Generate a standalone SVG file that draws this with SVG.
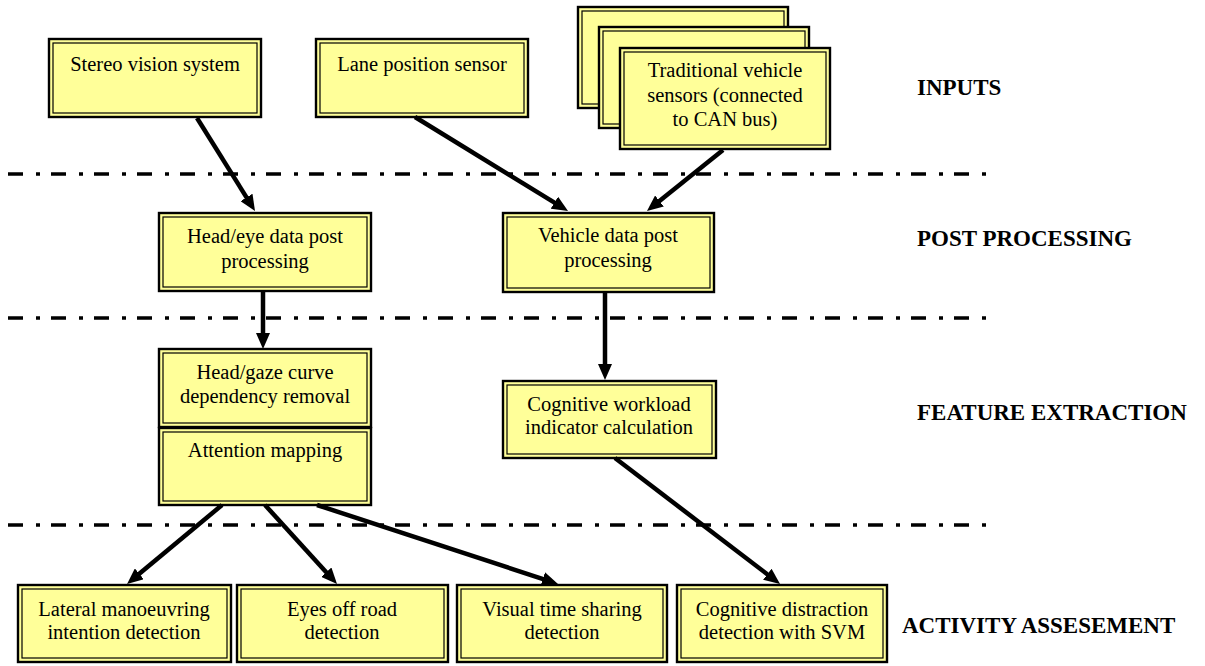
<svg xmlns="http://www.w3.org/2000/svg" width="1205" height="666" viewBox="0 0 1205 666">
  <style>
    .o { fill: #FFFF99; stroke: #000; stroke-width: 2.4; }
    .i { fill: none; stroke: #000; stroke-width: 1.2; }
    .t { font-family: "Liberation Serif", "Times New Roman", serif; font-size: 20.5px; fill: #000; text-anchor: middle; }
    .lbl { font-family: "Liberation Serif", "Times New Roman", serif; font-size: 23px; font-weight: bold; fill: #000; }
    .sep { stroke: #000; stroke-width: 3.5; stroke-dasharray: 15 13 4 11; fill: none; }
    .arr { stroke: #000; stroke-width: 4.5; fill: none; marker-end: url(#head); }
  </style>
  <defs>
    <marker id="head" viewBox="0 0 16 14" markerWidth="16" markerHeight="14" markerUnits="userSpaceOnUse" refX="2" refY="7" orient="auto">
      <path d="M0,0 L16,7 L0,14 z" fill="#000"/>
    </marker>
  </defs>
  <rect width="1205" height="666" fill="#fff"/>

  <!-- stage separators -->
  <g id="separators">
    <line class="sep" x1="8" y1="174" x2="992" y2="174"/>
    <line class="sep" x1="8" y1="318" x2="992" y2="318"/>
    <line class="sep" x1="8" y1="525" x2="992" y2="525"/>
  </g>

  <!-- stage labels -->
  <g id="labels">
    <text class="lbl" x="917" y="95">INPUTS</text>
    <text class="lbl" x="917" y="246">POST PROCESSING</text>
    <text class="lbl" x="917" y="420">FEATURE EXTRACTION</text>
    <text class="lbl" x="902" y="633">ACTIVITY ASSESEMENT</text>
  </g>

  <!-- inputs -->
  <g id="stereo">
    <rect class="o" x="49" y="39" width="212" height="78"/>
    <rect class="i" x="53" y="43" width="204" height="70"/>
    <text class="t" x="155" y="71">Stereo vision system</text>
  </g>
  <g id="lane">
    <rect class="o" x="316" y="39" width="212" height="78"/>
    <rect class="i" x="320" y="43" width="204" height="70"/>
    <text class="t" x="422" y="71">Lane position sensor</text>
  </g>
  <g id="vehicle-sensors">
    <rect class="o" x="578" y="7" width="210" height="101"/>
    <rect class="i" x="582" y="11" width="202" height="93"/>
    <rect class="o" x="599" y="27" width="210" height="101"/>
    <rect class="i" x="603" y="31" width="202" height="93"/>
    <rect class="o" x="620" y="48" width="210" height="101"/>
    <rect class="i" x="624" y="52" width="202" height="93"/>
    <text class="t" x="725" y="77">Traditional vehicle</text>
    <text class="t" x="725" y="102">sensors (connected</text>
    <text class="t" x="725" y="126">to CAN bus)</text>
  </g>

  <!-- post processing -->
  <g id="headeye-post">
    <rect class="o" x="159" y="213" width="212" height="78"/>
    <rect class="i" x="163" y="217" width="204" height="70"/>
    <text class="t" x="265" y="243">Head/eye data post</text>
    <text class="t" x="265" y="268">processing</text>
  </g>
  <g id="vehicle-post">
    <rect class="o" x="503" y="213" width="211" height="79"/>
    <rect class="i" x="507" y="217" width="203" height="71"/>
    <text class="t" x="608" y="242">Vehicle data post</text>
    <text class="t" x="608" y="267">processing</text>
  </g>

  <!-- feature extraction -->
  <g id="curve-removal">
    <rect class="o" x="159" y="349" width="212" height="78"/>
    <rect class="i" x="163" y="353" width="204" height="70"/>
    <text class="t" x="265" y="379">Head/gaze curve</text>
    <text class="t" x="265" y="403">dependency removal</text>
  </g>
  <g id="attention">
    <rect class="o" x="159" y="428" width="212" height="77"/>
    <rect class="i" x="163" y="432" width="204" height="69"/>
    <text class="t" x="265" y="457">Attention mapping</text>
  </g>
  <g id="workload">
    <rect class="o" x="503" y="381" width="213" height="77"/>
    <rect class="i" x="507" y="385" width="205" height="69"/>
    <text class="t" x="609" y="411">Cognitive workload</text>
    <text class="t" x="609" y="434">indicator calculation</text>
  </g>

  <!-- activity assessment -->
  <g id="lateral">
    <rect class="o" x="18" y="585" width="213" height="77"/>
    <rect class="i" x="22" y="589" width="205" height="69"/>
    <text class="t" x="124" y="616">Lateral manoeuvring</text>
    <text class="t" x="124" y="639">intention detection</text>
  </g>
  <g id="eyes-off">
    <rect class="o" x="237" y="585" width="211" height="77"/>
    <rect class="i" x="241" y="589" width="203" height="69"/>
    <text class="t" x="342" y="616">Eyes off road</text>
    <text class="t" x="342" y="639">detection</text>
  </g>
  <g id="time-sharing">
    <rect class="o" x="457" y="585" width="210" height="77"/>
    <rect class="i" x="461" y="589" width="202" height="69"/>
    <text class="t" x="562" y="616">Visual time sharing</text>
    <text class="t" x="562" y="639">detection</text>
  </g>
  <g id="distraction">
    <rect class="o" x="677" y="585" width="210" height="77"/>
    <rect class="i" x="681" y="589" width="202" height="69"/>
    <text class="t" x="782" y="616">Cognitive distraction</text>
    <text class="t" x="782" y="639">detection with SVM</text>
  </g>

  <!-- connectors -->
  <g id="connectors">
    <line class="arr" x1="197" y1="118" x2="247.6" y2="199.1"/>
    <line class="arr" x1="415" y1="117" x2="556.1" y2="203.7"/>
    <line class="arr" x1="723" y1="150" x2="657.9" y2="202.2"/>
    <line class="arr" x1="263" y1="292" x2="263" y2="335"/>
    <line class="arr" x1="605" y1="293" x2="605" y2="366"/>
    <line class="arr" x1="615" y1="458" x2="768.9" y2="575.5"/>
    <line class="arr" x1="222" y1="505" x2="137.8" y2="575.1"/>
    <line class="arr" x1="265" y1="505" x2="327.6" y2="573.7"/>
    <line class="arr" x1="317" y1="505" x2="544.7" y2="579.6"/>
  </g>
</svg>
